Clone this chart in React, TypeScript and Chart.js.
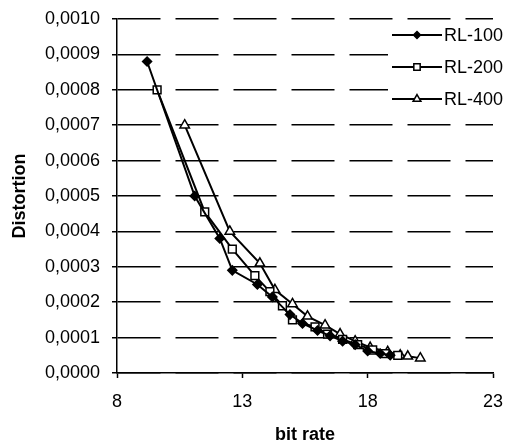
import React, { useEffect, useRef } from 'react';
import { Chart, registerables } from 'chart.js';

Chart.register(...registerables);

const seriesLabels = ['RL-100', 'RL-200', 'RL-400'];

const rl100X = [9.2, 11.1, 12.1, 12.6, 13.6, 14.2, 14.9, 15.4, 16.0, 16.5, 17.0, 17.5, 18.0, 18.5, 18.9];
const rl100Y = [0.00088, 0.0005, 0.00038, 0.00029, 0.00025, 0.000215, 0.000165, 0.00014, 0.00012, 0.000105, 0.00009, 0.00008, 0.000062, 0.000055, 0.00005];

const rl200X = [9.6, 11.5, 12.6, 13.5, 14.1, 14.6, 15.0, 15.9, 16.4, 17.0, 17.6, 18.2, 18.7, 19.2];
const rl200Y = [0.0008, 0.000455, 0.00035, 0.000275, 0.00023, 0.00019, 0.00015, 0.00013, 0.00011, 0.000095, 0.00008, 0.000065, 0.000055, 0.00005];

const rl400X = [10.7, 12.5, 13.7, 14.3, 15.0, 15.6, 16.3, 16.9, 17.5, 18.1, 18.8, 19.3, 19.6, 20.1];
const rl400Y = [0.0007, 0.0004, 0.00031, 0.000235, 0.000195, 0.00016, 0.000135, 0.00011, 0.00009, 0.000072, 0.00006, 0.00005, 0.000047, 0.000042];

const xMin = 8;
const xMax = 23;
const xStep = 5;
const yMin = 0;
const yMax = 0.001;
const yStep = 0.0001;

const pointStyles = ['rectRot', 'rect', 'triangle'];
const pointFills = ['#000', '#fff', '#fff'];
const pointRadii = [4.5, 5.5, 5.5];

const FONT = 'Arial, "Liberation Sans", sans-serif';

function drawMarker(ctx: CanvasRenderingContext2D, style: string, x: number, y: number, r: number, fill: string) {
  ctx.beginPath();
  if (style === 'rectRot') {
    ctx.moveTo(x, y - r);
    ctx.lineTo(x + r, y);
    ctx.lineTo(x, y + r);
    ctx.lineTo(x - r, y);
  } else if (style === 'rect') {
    const s = r * Math.SQRT1_2;
    ctx.rect(x - s, y - s, 2 * s, 2 * s);
  } else {
    const h = (r * 3) / Math.sqrt(3);
    const hh = (h * Math.sqrt(3)) / 2;
    ctx.moveTo(x, y - (2 / 3) * hh);
    ctx.lineTo(x + h / 2, y + hh / 3);
    ctx.lineTo(x - h / 2, y + hh / 3);
  }
  ctx.closePath();
  ctx.fillStyle = fill;
  ctx.fill();
  ctx.lineWidth = 1.5;
  ctx.strokeStyle = '#000';
  ctx.stroke();
}

const insideLegend = {
  id: 'insideLegend',
  afterDatasetsDraw(chart: any) {
    const { ctx, chartArea } = chart;
    const left = chartArea.right - 105;
    const top = chartArea.top + 5;
    ctx.save();
    ctx.fillStyle = '#fff';
    ctx.fillRect(left, top, 130, 92);
    chart.data.datasets.forEach((ds: any, i: number) => {
      const y = chartArea.top + 16 + i * 32;
      const x0 = left + 4;
      const x1 = left + 54;
      ctx.beginPath();
      ctx.moveTo(x0, y);
      ctx.lineTo(x1, y);
      ctx.lineWidth = 2;
      ctx.strokeStyle = '#000';
      ctx.stroke();
      drawMarker(ctx, pointStyles[i], (x0 + x1) / 2, y, pointRadii[i] - 1, pointFills[i]);
      ctx.fillStyle = '#000';
      ctx.font = `18px ${FONT}`;
      ctx.textAlign = 'left';
      ctx.textBaseline = 'middle';
      ctx.fillText(ds.label, x1 + 2, y + 1);
    });
    ctx.restore();
  },
};

export default function App() {
  const ref = useRef<HTMLCanvasElement | null>(null);

  useEffect(() => {
    document.body.style.margin = '0';
    const canvas = ref.current;
    if (!canvas) return;
    const xs = [rl100X, rl200X, rl400X];
    const ys = [rl100Y, rl200Y, rl400Y];
    const datasets = seriesLabels.map((label, i) => ({
      label,
      data: xs[i].map((x, j) => ({ x, y: ys[i][j] })),
      borderColor: '#000',
      borderWidth: 2,
      backgroundColor: pointFills[i],
      pointStyle: pointStyles[i],
      pointRadius: pointRadii[i],
      pointBorderWidth: 1.5,
      pointBorderColor: '#000',
      pointBackgroundColor: pointFills[i],
      fill: false,
      tension: 0,
      showLine: true,
    }));

    const chart = new Chart(canvas, {
      type: 'scatter',
      data: { datasets },
      options: {
        animation: false,
        responsive: false,
        devicePixelRatio: 1,
        font: { family: FONT, size: 18 },
        color: '#000',
        layout: { padding: { top: 19, right: 14, left: 0, bottom: 0 } },
        plugins: {
          legend: { display: false },
          tooltip: { enabled: false },
        },
        scales: {
          x: {
            type: 'linear',
            min: xMin,
            max: xMax,
            afterFit: (s: any) => {
              s.height = 70;
              s.paddingLeft = 0;
              s.paddingRight = 0;
            },
            ticks: {
              stepSize: xStep,
              color: '#000',
              padding: 13,
              font: { family: FONT, size: 18 },
              maxRotation: 0,
            },
            grid: {
              drawOnChartArea: false,
              drawTicks: true,
              tickLength: 5,
              tickColor: '#000',
              tickWidth: 1.5,
            },
            border: { display: true, color: '#000', width: 1.5 },
            title: {
              display: true,
              text: 'bit rate',
              color: '#000',
              font: { family: FONT, size: 18, weight: 'bold', lineHeight: 0.85 },
              padding: { top: 0, bottom: 0 },
            },
          },
          y: {
            type: 'linear',
            min: yMin,
            max: yMax,
            afterFit: (s: any) => {
              s.width = 117;
              s.paddingTop = 0;
              s.paddingBottom = 0;
            },
            ticks: {
              stepSize: yStep,
              color: '#000',
              padding: 12,
              font: { family: FONT, size: 18 },
              callback: (v: any) => Number(v).toFixed(4).replace('.', ','),
            },
            grid: {
              color: '#000',
              lineWidth: 1.5,
              drawTicks: true,
              tickLength: 5,
              tickColor: '#000',
              tickWidth: 1.5,
              tickBorderDash: [],
            },
            border: { display: true, color: '#000', width: 1.5, dash: [43, 15] },
            title: {
              display: true,
              text: 'Distortion',
              color: '#000',
              font: { family: FONT, size: 18, weight: 'bold' },
              padding: { top: 9, bottom: 0 },
            },
          },
        },
      } as any,
      plugins: [insideLegend],
    });
    return () => chart.destroy();
  }, []);

  return (
    <div style={{ width: 507, height: 443 }}>
      <canvas ref={ref} width={507} height={443} style={{ display: 'block' }} />
    </div>
  );
}
